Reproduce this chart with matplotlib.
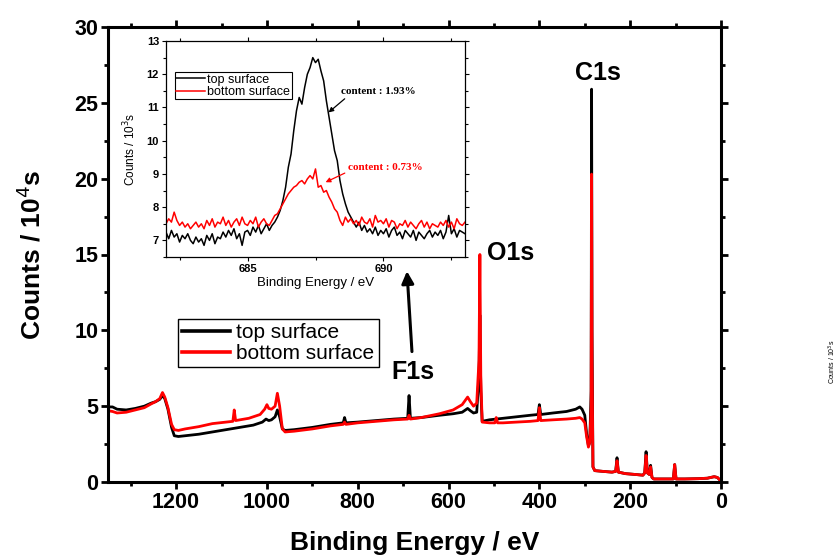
import numpy as np
import matplotlib
matplotlib.use("Agg")
import matplotlib.pyplot as plt

# ── Fonts ─────────────────────────────────────────────────────────────────────
SANS  = ['Liberation Sans', 'DejaVu Sans']
SERIF = ['Liberation Serif', 'DejaVu Serif']
plt.rcParams['font.family'] = SANS

# ── Survey spectrum (binding energy in eV, counts in 10^4 s) ──────────────────
top_energy = [1350, 1340, 1330, 1310, 1290, 1270, 1255, 1245, 1236, 1230, 1225, 1218,
              1210, 1204, 1195, 1180, 1150, 1120, 1090, 1060, 1030, 1010, 1002, 996,
              990, 982, 977, 972, 966, 960, 940, 900, 860, 832, 829, 826, 800, 760,
              720, 690, 687, 684, 660, 620, 590, 570, 558, 552, 545, 538, 533, 531,
              529, 526, 510, 480, 450, 420, 403, 400, 397, 370, 340, 320, 311, 306,
              300, 296, 292, 289, 286, 285, 284, 282, 278, 260, 240, 232, 229, 226,
              210, 190, 172, 168, 165, 162, 158, 155, 152, 148, 120, 105, 102, 99,
              80, 50, 30, 15, 8, 3, 0]
top_counts = [4.95, 4.95, 4.80, 4.75, 4.85, 5.00, 5.20, 5.30, 5.45, 5.70, 5.50, 4.80,
              3.60, 3.05, 3.00, 3.05, 3.15, 3.30, 3.45, 3.60, 3.75, 3.95, 4.15, 4.05,
              4.10, 4.30, 4.75, 4.30, 3.50, 3.40, 3.45, 3.60, 3.80, 3.90, 4.25, 3.90,
              3.95, 4.05, 4.15, 4.20, 5.70, 4.20, 4.25, 4.40, 4.50, 4.60, 4.85, 4.70,
              4.55, 4.60, 7.00, 11.0, 6.00, 4.00, 4.10, 4.20, 4.30, 4.40, 4.45, 5.10,
              4.45, 4.55, 4.65, 4.80, 4.95, 4.80, 4.40, 3.20, 2.40, 2.60, 6.00, 25.9,
              10.0, 1.00, 0.75, 0.70, 0.65, 0.70, 1.60, 0.65, 0.55, 0.50, 0.45, 0.60,
              2.00, 0.60, 0.50, 1.10, 0.30, 0.20, 0.20, 0.20, 1.15, 0.20, 0.20, 0.22,
              0.25, 0.35, 0.30, 0.15, 0.00]

bottom_energy = [1350, 1340, 1330, 1310, 1290, 1270, 1255, 1245, 1236, 1230, 1225, 1218,
                 1210, 1204, 1195, 1180, 1150, 1120, 1090, 1075, 1072, 1069, 1040, 1015,
                 1005, 1000, 996, 990, 982, 977, 972, 966, 960, 940, 900, 860, 832, 829,
                 826, 800, 760, 720, 690, 687, 684, 660, 620, 590, 570, 558, 552, 545,
                 538, 533, 531, 529, 526, 510, 498, 495, 492, 480, 450, 420, 403, 400,
                 397, 370, 340, 320, 311, 306, 300, 296, 292, 289, 286, 285, 284, 282,
                 278, 260, 240, 232, 229, 226, 210, 190, 172, 168, 165, 162, 158, 155,
                 152, 148, 120, 105, 102, 99, 80, 50, 30, 15, 8, 3, 0]
bottom_counts = [4.70, 4.65, 4.55, 4.60, 4.75, 4.90, 5.15, 5.30, 5.50, 5.90, 5.60, 4.90,
                 3.80, 3.45, 3.40, 3.50, 3.65, 3.85, 3.95, 4.00, 4.75, 4.05, 4.20, 4.45,
                 4.80, 5.10, 4.85, 4.80, 5.00, 5.85, 5.00, 3.50, 3.30, 3.35, 3.50, 3.70,
                 3.80, 3.95, 3.80, 3.90, 4.00, 4.10, 4.15, 4.40, 4.15, 4.25, 4.50, 4.75,
                 5.10, 5.60, 5.30, 5.00, 5.20, 8.00, 15.0, 7.00, 3.95, 3.90, 3.90, 4.25,
                 3.90, 3.90, 3.95, 4.00, 4.05, 4.90, 4.05, 4.10, 4.15, 4.20, 4.25, 4.15,
                 3.90, 3.00, 2.30, 2.60, 5.00, 20.3, 8.00, 1.00, 0.75, 0.70, 0.65, 0.70,
                 1.40, 0.65, 0.55, 0.50, 0.45, 0.60, 1.75, 0.60, 0.50, 1.00, 0.30, 0.20,
                 0.20, 0.20, 1.15, 0.20, 0.20, 0.22, 0.25, 0.35, 0.30, 0.15, 0.00]

# ── F1s detail (binding energy 682.0 .. 693.0 eV, step 0.1; counts in 10^3 s) ─
f1s_energy = np.round(np.linspace(682.0, 693.0, 111), 1)
f1s_top = [7.25, 7.05, 7.30, 7.10, 7.20, 6.95, 7.15, 7.05, 7.20, 7.00,
           6.90, 7.10, 6.95, 7.05, 6.85, 7.15, 7.00, 7.20, 6.90, 7.10,
           7.05, 7.25, 7.10, 7.30, 7.15, 7.35, 7.05, 7.20, 6.85, 7.25,
           7.30, 7.15, 7.40, 7.25, 7.45, 7.20, 7.35, 7.50, 7.30, 7.45,
           7.55, 7.70, 7.90, 8.20, 8.60, 9.20, 9.60, 10.30, 10.90, 11.30,
           11.10, 11.60, 12.00, 12.20, 12.50, 12.35, 12.45, 12.10, 11.80, 11.20,
           10.70, 10.20, 9.70, 9.40, 8.80, 8.40, 8.10, 7.85, 7.70, 7.55,
           7.40, 7.55, 7.30, 7.45, 7.25, 7.35, 7.20, 7.40, 7.15, 7.30,
           7.20, 7.35, 7.10, 7.30, 7.40, 7.15, 7.25, 7.05, 7.30, 7.20,
           7.10, 7.30, 7.00, 7.25, 7.15, 7.05, 7.20, 7.30, 7.10, 7.25,
           7.15, 7.30, 7.05, 7.25, 7.75, 7.20, 7.35, 7.10, 7.30, 7.25,
           7.20]
f1s_bottom = [7.50, 7.65, 7.55, 7.85, 7.60, 7.45, 7.55, 7.40, 7.50, 7.35,
              7.45, 7.55, 7.40, 7.50, 7.35, 7.60, 7.45, 7.65, 7.40, 7.55,
              7.50, 7.70, 7.45, 7.60, 7.40, 7.55, 7.65, 7.45, 7.70, 7.50,
              7.45, 7.60, 7.50, 7.70, 7.40, 7.55, 7.65, 7.50, 7.45, 7.60,
              7.75, 7.80, 7.95, 8.10, 8.25, 8.40, 8.50, 8.60, 8.65, 8.75,
              8.80, 8.70, 8.85, 8.95, 8.85, 9.15, 8.60, 8.65, 8.45, 8.50,
              8.30, 8.15, 7.95, 7.85, 7.60, 7.45, 7.70, 7.55, 7.65, 7.50,
              7.60, 7.45, 7.70, 7.55, 7.50, 7.65, 7.40, 7.75, 7.55, 7.60,
              7.50, 7.65, 7.40, 7.60, 7.55, 7.35, 7.50, 7.45, 7.60, 7.40,
              7.55, 7.45, 7.35, 7.50, 7.60, 7.40, 7.55, 7.35, 7.50, 7.45,
              7.40, 7.55, 7.45, 7.60, 7.40, 7.55, 7.35, 7.65, 7.50, 7.45,
              7.55]

series_names = ['top surface', 'bottom surface']
series_colors = ['black', 'red']

# ── Figure ────────────────────────────────────────────────────────────────────
W, H = 840, 560
fig = plt.figure(figsize=(W / 100, H / 100), dpi=100)

def fbox(x0, y0, x1, y1):
    # pixel box (top-left origin) -> figure fraction rect
    return [x0 / W, 1 - y1 / H, (x1 - x0) / W, (y1 - y0) / H]

ax = fig.add_axes(fbox(108, 27, 721, 482))
ax.plot(top_energy, top_counts, color=series_colors[0], lw=2.0, label=series_names[0])
ax.plot(bottom_energy, bottom_counts, color=series_colors[1], lw=2.0, label=series_names[1])

ax.set_xlim(1350, 0)
ax.set_ylim(0, 30)
ax.set_xticks([1200, 1000, 800, 600, 400, 200, 0])
ax.set_xticks(np.arange(100, 1350, 200), minor=True)
ax.set_yticks([0, 5, 10, 15, 20, 25, 30])
ax.set_yticks([2.5, 7.5, 12.5, 17.5, 22.5, 27.5], minor=True)
for s in ax.spines.values():
    s.set_linewidth(2.2)
ax.tick_params(which='both', direction='out', width=2, top=True, right=True,
               labelsize=15.5, pad=2)
ax.tick_params(which='major', length=5)
ax.tick_params(which='minor', length=3)
for lab in ax.get_xticklabels() + ax.get_yticklabels():
    lab.set_fontweight('bold')

ax.set_xlabel('Binding Energy / eV', fontsize=19, fontweight='bold', labelpad=13)
ax.set_ylabel('Counts / 10$^4$s', fontsize=19, fontweight='bold', labelpad=21)

ax.text(271, 27.0, 'C1s', fontsize=18, fontweight='bold', ha='center', va='center')
ax.text(515, 15.1, 'O1s', fontsize=18, fontweight='bold', ha='left', va='center')
ax.text(678, 7.25, 'F1s', fontsize=18, fontweight='bold', ha='center', va='center')
ax.annotate('', xy=(691.6, 13.9), xytext=(680.6, 8.6),
            arrowprops=dict(arrowstyle='-|>', color='black', lw=2.2,
                            mutation_scale=18, shrinkA=0, shrinkB=0))

leg = ax.legend(loc='upper left', bbox_to_anchor=(178 / W, 1 - 319 / H),
                bbox_transform=fig.transFigure, borderaxespad=0, fontsize=15,
                handlelength=2.3, handletextpad=0.3, borderpad=0.2,
                labelspacing=0.1, fancybox=False, framealpha=1, edgecolor='black')
leg.get_frame().set_linewidth(1.0)
for line in leg.get_lines():
    line.set_linewidth(2.6)

# ── Inset: F1s region ────────────────────────────────────────────────────────
ins = fig.add_axes(fbox(166, 41, 465, 257))
ins.plot(f1s_energy, f1s_top, color=series_colors[0], lw=1.1, label=series_names[0])
ins.plot(f1s_energy, f1s_bottom, color=series_colors[1], lw=1.1, label=series_names[1])
ins.set_xlim(682, 693)
ins.set_ylim(6.5, 13)
ins.set_xticks([685, 690])
ins.set_xticks([682.5, 687.5, 692.5], minor=True)
ins.set_yticks([7, 8, 9, 10, 11, 12, 13])
ins.set_yticks(np.arange(6.5, 13, 1.0), minor=True)
for s in ins.spines.values():
    s.set_linewidth(0.9)
ins.tick_params(which='both', direction='out', width=0.8, top=True, right=True,
                labelsize=8, pad=2)
ins.tick_params(which='major', length=3)
ins.tick_params(which='minor', length=2)
for lab in ins.get_xticklabels() + ins.get_yticklabels():
    lab.set_fontweight('bold')
ins.set_xlabel('Binding Energy / eV', fontsize=9.5, labelpad=2)
ins.set_ylabel('Counts / 10$^3$s', fontsize=8.5, labelpad=6)

ins.annotate('content : 1.93%', xy=(687.98, 10.85), xytext=(688.42, 11.48),
             fontsize=8, fontweight='bold', family=SERIF, color='black', va='center',
             arrowprops=dict(arrowstyle='-|>', color='black', lw=0.9,
                             mutation_scale=7, shrinkA=0, shrinkB=0,
                             relpos=(0.1, 0.0)))
ins.annotate('content : 0.73%', xy=(687.87, 8.75), xytext=(688.68, 9.2),
             fontsize=8, fontweight='bold', family=SERIF, color='red', va='center',
             arrowprops=dict(arrowstyle='-|>', color='red', lw=0.9,
                             mutation_scale=7, shrinkA=0, shrinkB=0,
                             relpos=(0.0, 0.0)))

ileg = ins.legend(loc='upper left', bbox_to_anchor=(0.03, 0.855), borderaxespad=0,
                  fontsize=9, handlelength=2.3, handletextpad=0.2, borderpad=0.1,
                  labelspacing=0.05, fancybox=False, framealpha=1, edgecolor='black')
ileg.get_frame().set_linewidth(0.8)

# stray label at the right edge
fig.text(832 / W, 1 - 362 / H, 'Counts / 10$^3$s', fontsize=5, rotation=90,
         ha='center', va='center')

fig.savefig('out.png', dpi=100)
